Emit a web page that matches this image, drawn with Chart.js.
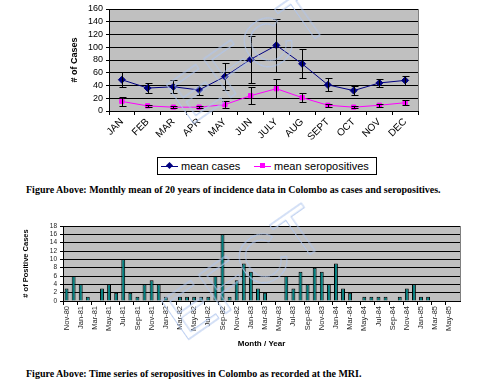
<!DOCTYPE html>
<html>
<head>
<meta charset="utf-8">
<script src="https://cdn.jsdelivr.net/npm/chart.js@4/dist/chart.umd.min.js"></script>
<style>
body { margin:0; width:478px; height:389px; background:#fff; position:relative; overflow:hidden; font-family: Arial, "Liberation Sans", sans-serif; }
#monthlyChart { position:absolute; left:0; top:0; }
#seriesChart { position:absolute; left:0; top:215px; }
#legend { position:absolute; left:157px; top:157px; width:218px; height:16px; border:1px solid #000; background:#fff; font-size:11px; line-height:16px; white-space:nowrap; }
#legend .item { position:absolute; top:0; }
#legend .line { position:absolute; top:8px; width:17px; height:0; border-top:1px solid; }
#legend .dot { position:absolute; top:5px; left:6px; width:5px; height:5px; }
#legend .txt { position:absolute; left:20px; top:0; }
.caption { position:absolute; left:26px; font: bold 10px "Liberation Serif", "Times New Roman", serif; white-space:nowrap; color:#000; }
.mark { position:absolute; font: 68px Arial, "Liberation Sans", sans-serif; color:transparent; -webkit-text-stroke:0.8px #b0c6ee; transform:translate(-50%, -50%) rotate(-35deg); white-space:nowrap; pointer-events:none; }
</style>
</head>
<body>
<canvas id="monthlyChart" width="478" height="150"></canvas>
<div id="legend"></div>
<div class="caption" style="top:184px">Figure Above: Monthly mean of 20 years of incidence data in Colombo as cases and seropositives.</div>
<canvas id="seriesChart" width="478" height="140"></canvas>
<div class="caption" style="top:368px">Figure Above: Time series of seropositives in Colombo as recorded at the MRI.</div>
<div class="mark" style="left:248px; top:56px">EFCT</div>
<div class="mark" style="left:243px; top:272px">EFCT</div>

<script>
// Monthly means (top chart)
const months = ['JAN', 'FEB', 'MAR', 'APR', 'MAY', 'JUN', 'JULY', 'AUG', 'SEPT', 'OCT', 'NOV', 'DEC'];
const meanCases = [49, 36, 38, 33, 54, 81, 103, 74, 41, 32, 44, 48];
const caseErrors = [12, 8.5, 10, 7.5, 21, 37, 42, 23, 10, 7.5, 6.5, 7.5];
const meanSeropositives = [15, 8, 6, 6, 10, 24, 35, 21, 9, 6, 9, 13];
const seroErrors = [6.5, 2, 2, 2, 6, 13, 15, 7, 2, 2, 2, 4];
const casesTicks = [0, 20, 40, 60, 80, 100, 120, 140, 160];

// Time series (bottom chart), Nov-80 .. Jun-85
const monthYears = [
    'Nov-80', 'Dec-80', 'Jan-81', 'Feb-81', 'Mar-81', 'Apr-81', 'May-81', 'Jun-81',
    'Jul-81', 'Aug-81', 'Sep-81', 'Oct-81', 'Nov-81', 'Dec-81', 'Jan-82', 'Feb-82',
    'Mar-82', 'Apr-82', 'May-82', 'Jun-82', 'Jul-82', 'Aug-82', 'Sep-82', 'Oct-82',
    'Nov-82', 'Dec-82', 'Jan-83', 'Feb-83', 'Mar-83', 'Apr-83', 'May-83', 'Jun-83',
    'Jul-83', 'Aug-83', 'Sep-83', 'Oct-83', 'Nov-83', 'Dec-83', 'Jan-84', 'Feb-84',
    'Mar-84', 'Apr-84', 'May-84', 'Jun-84', 'Jul-84', 'Aug-84', 'Sep-84', 'Oct-84',
    'Nov-84', 'Dec-84', 'Jan-85', 'Feb-85', 'Mar-85', 'Apr-85', 'May-85', 'Jun-85'
];
const positives = [
    3, 6, 4, 1, 0, 3, 4, 2, 10, 2, 1, 4, 5, 4, 1, 0,
    1, 1, 1, 1, 1, 6, 16, 1, 5, 9, 7, 3, 2, 0, 0, 6,
    3, 7, 4, 8, 7, 4, 9, 3, 2, 0, 1, 1, 1, 1, 0, 1,
    3, 4, 1, 1, 0, 0, 0, 0
];
const positiveTicks = [0, 2, 4, 6, 8, 10, 12, 14, 16, 18];

const plotGrey = '#c0c0c0';

// grey plot area with a grey frame, gridlines go on top of it
const plotBackground = {
    id: 'plotBackground',
    beforeDraw(chart) {
        let a = chart.chartArea;
        let ctx = chart.ctx;
        ctx.save();
        ctx.fillStyle = plotGrey;
        ctx.fillRect(a.left, a.top, a.right - a.left, a.bottom - a.top);
        ctx.strokeStyle = '#808080';
        ctx.lineWidth = 1;
        ctx.strokeRect(Math.round(a.left) + 0.5, Math.round(a.top) + 0.5, Math.round(a.right - a.left), Math.round(a.bottom - a.top));
        ctx.restore();
    }
};

// +/- error bars read through the y scale
const errorBars = {
    id: 'errorBars',
    afterDatasetsDraw(chart) {
        let ctx = chart.ctx;
        let y = chart.scales.y;
        chart.data.datasets.forEach((ds, di) => {
            if (!ds.errors) return;
            let meta = chart.getDatasetMeta(di);
            meta.data.forEach((pt, i) => {
                let hi = Math.round(y.getPixelForValue(ds.data[i] + ds.errors[i])) + 0.5;
                let lo = Math.round(y.getPixelForValue(Math.max(0, ds.data[i] - ds.errors[i]))) + 0.5;
                let x = Math.round(pt.x) + 0.5;
                ctx.save();
                ctx.strokeStyle = '#000';
                ctx.lineWidth = 1;
                ctx.beginPath();
                ctx.moveTo(x, hi); ctx.lineTo(x, lo);
                ctx.moveTo(x - 3, hi); ctx.lineTo(x + 4, hi);
                ctx.moveTo(x - 3, lo); ctx.lineTo(x + 4, lo);
                ctx.stroke();
                ctx.restore();
            });
        });
    }
};

function monthly_chart() {
    const ctx = document.getElementById('monthlyChart').getContext('2d');
    const chart = new Chart(ctx, {
        type: 'line',
        data: {
            labels: months,
            datasets: [{
                label: 'mean cases',
                data: meanCases,
                errors: caseErrors,
                borderColor: '#000080',
                backgroundColor: '#000080',
                borderWidth: 1,
                pointStyle: 'rectRot',
                pointRadius: 3.5,
                pointBorderWidth: 1
            }, {
                label: 'mean seropositives',
                data: meanSeropositives,
                errors: seroErrors,
                borderColor: '#ff00ff',
                backgroundColor: '#ff00ff',
                borderWidth: 1,
                pointStyle: 'rect',
                pointRadius: 3,
                pointBorderWidth: 1
            }]
        },
        options: {
            responsive: false,
            animation: false,
            events: [],
            layout: { padding: { left: 0, right: 60, top: 9, bottom: 0 } },
            plugins: {
                legend: { display: false },
                tooltip: { enabled: false }
            },
            scales: {
                x: {
                    offset: true,
                    afterFit: (s) => { s.height = 39; },
                    grid: { offset: true, drawOnChartArea: false, color: '#000', tickLength: 4 },
                    border: { color: '#000' },
                    ticks: {
                        minRotation: 45,
                        maxRotation: 45,
                        color: '#000',
                        padding: 1,
                        font: { family: 'Arial, "Liberation Sans", sans-serif', size: 10 }
                    }
                },
                y: {
                    min: casesTicks[0],
                    max: casesTicks[casesTicks.length - 1],
                    afterFit: (s) => { s.width = 109; },
                    afterBuildTicks: (s) => { s.ticks = casesTicks.map(v => ({ value: v })); },
                    grid: { color: '#000', tickLength: 3 },
                    border: { color: '#000' },
                    ticks: {
                        autoSkip: false,
                        color: '#000',
                        padding: 3,
                        font: { family: 'Arial, "Liberation Sans", sans-serif', size: 9 }
                    },
                    title: {
                        display: true,
                        text: '# of Cases',
                        color: '#000',
                        padding: { top: 69, bottom: 0 },
                        font: { family: 'Arial, "Liberation Sans", sans-serif', size: 9, weight: 'bold' }
                    }
                }
            }
        },
        plugins: [plotBackground, errorBars]
    });
    build_legend(chart);
}

function build_legend(chart) {
    let legend = document.getElementById('legend');
    let lefts = [3, 96];
    chart.data.datasets.forEach((ds, i) => {
        let item = document.createElement('div');
        item.className = 'item';
        item.style.left = lefts[i] + 'px';
        let line = document.createElement('span');
        line.className = 'line';
        line.style.borderTopColor = ds.borderColor;
        let dot = document.createElement('span');
        dot.className = 'dot';
        dot.style.background = ds.borderColor;
        if (ds.pointStyle == 'rectRot') dot.style.transform = 'rotate(45deg)';
        let txt = document.createElement('span');
        txt.className = 'txt';
        txt.textContent = ds.label;
        item.appendChild(line);
        item.appendChild(dot);
        item.appendChild(txt);
        legend.appendChild(item);
    });
}

function series_chart() {
    const ctx = document.getElementById('seriesChart').getContext('2d');
    new Chart(ctx, {
        type: 'bar',
        data: {
            labels: monthYears,
            datasets: [{
                label: '# of Positive Cases',
                data: positives,
                backgroundColor: '#008080',
                borderColor: '#000',
                borderWidth: 1,
                borderSkipped: 'bottom',
                barPercentage: 0.55,
                categoryPercentage: 1
            }]
        },
        options: {
            responsive: false,
            animation: false,
            events: [],
            layout: { padding: { left: 0, right: 18, top: 11, bottom: 0 } },
            plugins: {
                legend: { display: false },
                tooltip: { enabled: false }
            },
            scales: {
                x: {
                    afterFit: (s) => { s.height = 54; },
                    grid: {
                        offset: true,
                        drawOnChartArea: false,
                        tickLength: 4,
                        color: (c) => c.index % 2 == 0 ? '#000' : 'rgba(0,0,0,0)'
                    },
                    border: { color: '#000' },
                    ticks: {
                        autoSkip: false,
                        minRotation: 90,
                        maxRotation: 90,
                        padding: 1,
                        color: '#222',
                        font: { family: 'Arial, "Liberation Sans", sans-serif', size: 7.5 },
                        callback: function (value, index) {
                            return index % 2 == 0 ? this.getLabelForValue(value) : '';
                        }
                    },
                    title: {
                        display: true,
                        text: 'Month / Year',
                        color: '#000',
                        padding: { top: 2, bottom: 6 },
                        font: { family: 'Arial, "Liberation Sans", sans-serif', size: 8, weight: 'bold' }
                    }
                },
                y: {
                    min: positiveTicks[0],
                    max: positiveTicks[positiveTicks.length - 1],
                    afterFit: (s) => { s.width = 63; },
                    afterBuildTicks: (s) => { s.ticks = positiveTicks.map(v => ({ value: v })); },
                    grid: { color: '#000', tickLength: 3 },
                    border: { color: '#000' },
                    ticks: {
                        autoSkip: false,
                        color: '#222',
                        padding: 3,
                        font: { family: 'Arial, "Liberation Sans", sans-serif', size: 6.5 }
                    },
                    title: {
                        display: true,
                        text: '# of Positive Cases',
                        color: '#000',
                        padding: { top: 21, bottom: 0 },
                        font: { family: 'Arial, "Liberation Sans", sans-serif', size: 7.5, weight: 'bold' }
                    }
                }
            }
        },
        plugins: [plotBackground]
    });
}

monthly_chart();
series_chart();
</script>
</body>
</html>
